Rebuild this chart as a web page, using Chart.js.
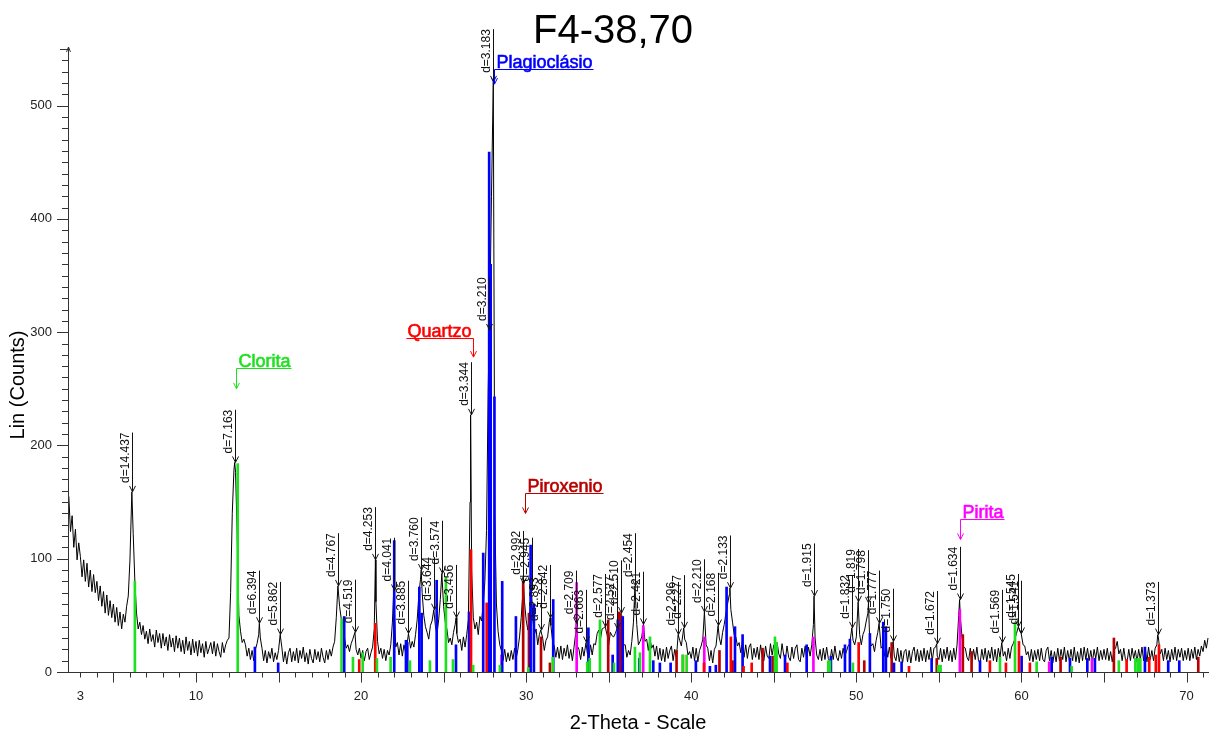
<!DOCTYPE html>
<html>
<head>
<meta charset="utf-8">
<title>F4-38,70</title>
<script src="https://cdn.jsdelivr.net/npm/chart.js@4.4.1/dist/chart.umd.min.js"></script>
<style>
  html, body { margin: 0; padding: 0; background: #fff; }
  #wrap { width: 1209px; height: 735px; }
</style>
</head>
<body>
<div id="wrap"><canvas id="xrd" width="1209" height="735"></canvas></div>
<script>
// Scan: counts every 0.1 deg 2-theta, starting at 2.3
const scanStart = 2.3;
const scanStep = 0.1;
const scanCounts = [
  155, 124, 138, 110, 126, 99, 114,
  102, 84, 99, 80, 96, 75, 90, 71, 86, 70,
  80, 63, 76, 58, 71, 52, 68, 50, 63, 48,
  60, 44, 57, 41, 53, 38, 51, 44, 58, 67,
  98, 150, 122, 80, 52, 38, 44, 33, 41, 29,
  36, 25, 38, 27, 33, 22, 37, 26, 34, 21,
  34, 23, 31, 19, 33, 22, 30, 18, 32, 21,
  30, 18, 28, 16, 31, 19, 27, 15, 29, 17,
  27, 14, 28, 17, 25, 13, 27, 16, 21, 26,
  16, 27, 14, 25, 18, 13, 26, 17, 24, 28,
  30, 70, 140, 178, 176, 120, 50, 36, 26, 29,
  24, 14, 21, 11, 19, 10, 20, 25, 33, 30,
  21, 10, 19, 8, 18, 12, 21, 9, 17, 11,
  19, 28, 22, 9, 18, 7, 17, 21, 9, 18,
  10, 21, 8, 19, 12, 22, 9, 17, 7, 20,
  12, 8, 20, 11, 18, 9, 21, 13, 8, 19,
  11, 20, 14, 22, 27, 48, 72, 58, 47, 42,
  30, 21, 24, 18, 25, 29, 32, 20, 15, 21,
  12, 19, 10, 18, 21, 11, 17, 22, 38, 62,
  27, 16, 21, 12, 20, 10, 19, 15, 24, 44,
  38, 22, 26, 15, 25, 14, 24, 17, 26, 31,
  21, 27, 22, 33, 46, 68, 82, 70, 50, 40,
  35, 29, 41, 45, 52, 41, 33, 46, 64, 84,
  58, 44, 38, 26, 30, 24, 35, 42, 34, 26,
  29, 19, 31, 22, 33, 46, 150, 90, 48, 38,
  44, 33, 49, 45, 60, 80, 125, 250, 320, 420,
  505, 140, 60, 36, 24, 19, 10, 20, 9, 17,
  10, 19, 11, 21, 12, 20, 31, 48, 70, 62,
  46, 37, 50, 66, 47, 33, 38, 24, 33, 34,
  30, 19, 28, 31, 44, 41, 27, 23, 13, 22,
  12, 23, 11, 21, 14, 24, 12, 20, 10, 22,
  34, 23, 20, 11, 22, 14, 24, 17, 12, 24,
  15, 25, 24, 34, 37, 29, 38, 39, 31, 33,
  24, 35, 32, 31, 34, 37, 45, 50, 36, 24,
  24, 13, 19, 15, 27, 44, 70, 42, 24, 27,
  31, 38, 27, 29, 19, 30, 21, 24, 14, 23,
  11, 21, 10, 20, 9, 22, 12, 19, 23, 10,
  20, 12, 24, 28, 23, 34, 29, 26, 15, 18,
  12, 22, 10, 21, 9, 19, 23, 29, 48, 24,
  21, 10, 19, 8, 20, 23, 36, 30, 24, 35,
  42, 52, 60, 68, 55, 44, 33, 31, 23, 26,
  17, 27, 13, 24, 12, 22, 25, 11, 21, 13,
  22, 11, 24, 13, 10, 23, 14, 12, 25, 15,
  24, 14, 26, 16, 12, 25, 15, 11, 23, 13,
  10, 22, 12, 21, 24, 11, 9, 21, 13, 23,
  12, 22, 14, 24, 42, 30, 15, 11, 20, 10,
  21, 11, 22, 12, 9, 20, 11, 23, 13, 10,
  19, 12, 21, 14, 18, 23, 25, 34, 28, 24,
  31, 50, 33, 24, 33, 37, 45, 52, 32, 23,
  25, 18, 28, 35, 30, 21, 23, 14, 24, 13,
  22, 12, 24, 14, 10, 21, 9, 19, 8, 18,
  20, 9, 19, 8, 18, 22, 10, 20, 9, 19,
  10, 21, 9, 19, 11, 22, 10, 21, 22, 14,
  11, 21, 9, 20, 12, 22, 10, 19, 9, 21,
  11, 24, 50, 48, 31, 22, 21, 13, 10, 21,
  9, 20, 11, 22, 10, 8, 20, 11, 21, 9,
  19, 12, 22, 10, 20, 9, 21, 13, 22, 14,
  18, 10, 21, 12, 22, 25, 29, 34, 38, 36,
  32, 24, 23, 15, 18, 10, 20, 9, 19, 11,
  20, 10, 21, 11, 9, 19, 22, 10, 19, 8,
  18, 9, 21, 10, 20, 11, 22, 9, 19, 10,
  20, 10, 22, 9, 18, 8, 21, 10, 22, 11,
  21, 10, 19, 9, 20, 12, 22, 10, 19, 11,
  20, 11, 21, 10, 18, 9, 19, 21, 27, 16,
  20, 10, 21, 11, 9, 20, 10, 21, 12, 19,
  9, 20, 11, 22, 10, 21, 9, 22, 11, 19,
  10, 21, 24, 30, 16, 20, 10, 21, 11, 19,
  9, 20, 11, 22, 10, 20, 13, 21, 10, 19,
  11, 21, 10, 20, 12, 22, 11, 20, 14, 23,
  18, 28, 21, 30
];

// Marked peaks: d-spacing (Å) and peak top counts
const peakD = [
  '14.437', '7.163', '6.394', '5.862', '4.767', '4.519', '4.253', '4.041', '3.885', '3.760',
  '3.644', '3.574', '3.456', '3.344', '3.210', '3.183', '2.992', '2.945', '2.893', '2.842',
  '2.709', '2.663', '2.577', '2.527', '2.510', '2.454', '2.421', '2.296', '2.277', '2.210',
  '2.168', '2.133', '1.915', '1.832', '1.819', '1.798', '1.777', '1.750', '1.672', '1.634',
  '1.569', '1.545', '1.541', '1.373'
];
const peakCounts = [
  159, 185, 43, 33, 76, 35, 99, 72, 34, 90,
  55, 87, 48, 227, 302, 521, 78, 72, 37, 48,
  43, 26, 40, 38, 52, 76, 42, 33, 39, 53,
  41, 74, 67, 39, 62, 61, 43, 27, 25, 64,
  26, 40, 34, 33
];

// Reference patterns (stick positions in 2-theta and heights in counts)
const cloritaTheta = [6.30, 12.53, 18.82, 19.51, 20.10, 20.96, 21.79, 22.96, 24.17, 25.14,
  25.57, 26.79, 28.41, 30.13, 31.61, 33.70, 33.85, 34.47, 35.32, 36.59,
  36.89, 37.50, 39.48, 39.72, 45.07, 45.17, 48.30, 48.40, 49.79, 54.96,
  55.10, 58.70, 59.61, 60.92, 63.04, 65.90, 66.90, 67.05, 67.20];
const cloritaCounts = [80, 184, 47, 13, 17, 12, 13, 10, 10, 84,
  11, 6, 6, 4, 13, 9, 12, 46, 8, 22,
  17, 31, 15, 15, 31, 26, 10, 10, 8, 6,
  6, 13, 44, 9, 5, 10, 12, 12, 12];

const quartzoTheta = [19.89, 20.86, 26.66, 27.61, 39.50, 40.77, 42.40, 43.17, 43.66, 45.82,
  50.14, 53.19, 58.09, 59.06, 59.85, 60.51, 66.37, 67.74, 68.14, 68.33];
const quartzoCounts = [11, 43, 108, 61, 15, 8, 31, 5, 8, 8,
  26, 5, 10, 8, 27, 8, 11, 13, 15, 24];

const plagioclasioTheta = [13.57, 14.98, 18.98, 22.01, 22.72, 22.80, 23.53, 23.67, 24.58, 25.75,
  26.54, 27.40, 27.76, 27.85, 28.08, 28.55, 29.38, 30.27, 30.47, 31.64,
  33.77, 35.24, 35.55, 35.85, 36.85, 37.70, 38.10, 38.75, 40.28, 41.13,
  41.49, 42.14, 42.65, 43.11, 44.77, 45.68, 46.99, 48.46, 49.31, 49.61,
  50.82, 51.63, 51.79, 52.28, 52.74, 54.56, 57.49, 60.01, 61.83, 62.94,
  63.99, 64.45, 67.48, 68.89, 69.56];
const plagioclasioCounts = [22, 8, 49, 116, 28, 26, 75, 52, 81, 24,
  53, 105, 459, 360, 243, 80, 49, 112, 60, 64,
  39, 15, 46, 49, 12, 10, 8, 8, 10, 5,
  6, 75, 40, 33, 14, 15, 24, 14, 24, 29,
  34, 44, 40, 8, 9, 12, 10, 14, 13, 12,
  12, 12, 22, 10, 10];

const piroxenioTheta = [29.82, 30.17, 30.90, 31.44, 34.97, 35.64, 35.74, 39.11, 41.71, 42.50,
  44.32, 44.93, 50.48, 52.14, 54.87, 56.45, 56.98, 62.37, 65.60, 70.71];
const piroxenioCounts = [80, 52, 31, 8, 46, 53, 50, 19, 19, 10,
  21, 14, 10, 26, 12, 33, 18, 13, 30, 13];

const piritaTheta = [28.51, 33.06, 37.09, 40.79, 47.40, 56.27, 61.68, 64.27];
const piritaCounts = [15, 79, 41, 31, 31, 55, 9, 12];

const xTickLabels = ['3', '10', '20', '30', '40', '50', '60', '70'];
const yTickLabels = ['0', '100', '200', '300', '400', '500'];

// Cu K-alpha1
const WAVELENGTH = 1.5406;
const twoTheta = d => 2 * Math.asin(WAVELENGTH / (2 * d)) * 180 / Math.PI;

const FONT = '"Liberation Sans", Arial, sans-serif';
const AXIS_COLOR = '#333';

const phases = [
  { name: 'Clorita', color: '#1fe01f', theta: cloritaTheta, counts: cloritaCounts },
  { name: 'Quartzo', color: '#ff0000', theta: quartzoTheta, counts: quartzoCounts },
  { name: 'Plagioclásio', color: '#0000ff', theta: plagioclasioTheta, counts: plagioclasioCounts },
  { name: 'Piroxenio', color: '#b80000', theta: piroxenioTheta, counts: piroxenioCounts },
  { name: 'Pirita', color: '#ff00ff', theta: piritaTheta, counts: piritaCounts },
];

// where each phase name sits: arrow tip (2-theta, counts), text side, arrow length
const phaseTags = [
  { theta: 12.42, counts: 250, side: 1, drop: 21 },
  { theta: 26.78, counts: 278, side: -1, drop: 19 },
  { theta: 28.05, counts: 519, side: 1, drop: 15 },
  { theta: 29.93, counts: 140, side: 1, drop: 20 },
  { theta: 56.27, counts: 117, side: 1, drop: 20 },
];

const peakTheta = peakD.map(d => twoTheta(parseFloat(d)));

const scanPoints = scanCounts
  .map((c, i) => ({ x: +(scanStart + i * scanStep).toFixed(2), y: c }))
  .filter(p => !peakTheta.some(t => Math.abs(t - p.x) < 0.03))
  .concat(peakTheta.map((t, i) => ({ x: t, y: peakCounts[i] })))
  .sort((a, b) => a.x - b.x);

const arrowHead = (ctx, x, y) => {
  ctx.beginPath();
  ctx.moveTo(x - 3, y - 6);
  ctx.lineTo(x, y);
  ctx.lineTo(x + 3, y - 6);
  ctx.stroke();
};

// axes with EVA style ticks, titles
const xrdAxes = {
  id: 'xrdAxes',
  afterDraw(chart) {
    const { ctx, chartArea: area, scales: { x, y } } = chart;
    ctx.save();
    ctx.strokeStyle = AXIS_COLOR;
    ctx.fillStyle = '#222';
    ctx.lineWidth = 1;

    const x0 = Math.round(area.left) + 0.5;
    const y0 = Math.round(area.bottom) + 0.5;

    ctx.beginPath();
    ctx.moveTo(57, y0);
    ctx.lineTo(area.right, y0);
    ctx.moveTo(x0, y0);
    ctx.lineTo(x0, area.top - 2);
    ctx.stroke();
    // arrow on top of the count axis
    ctx.beginPath();
    ctx.moveTo(60, area.top + 0.5);
    ctx.lineTo(x0, area.top + 0.5);
    ctx.moveTo(x0 - 2, area.top + 3);
    ctx.lineTo(x0, area.top - 2);
    ctx.lineTo(x0 + 2, area.top + 3);
    ctx.stroke();

    // count ticks every 10, long ones every 100
    ctx.beginPath();
    for (let v = 10; v <= 540; v += 10) {
      const py = Math.round(y.getPixelForValue(v)) + 0.5;
      ctx.moveTo(v % 100 === 0 ? 57 : 62, py);
      ctx.lineTo(x0, py);
    }
    ctx.stroke();

    ctx.font = '13px ' + FONT;
    ctx.textAlign = 'right';
    ctx.textBaseline = 'middle';
    yTickLabels.forEach(t => ctx.fillText(t, 52, y.getPixelForValue(+t)));

    // 2-theta ticks every degree, long ones every 5
    ctx.beginPath();
    for (let v = 3; v <= 71; v++) {
      const px = Math.round(x.getPixelForValue(v)) + 0.5;
      ctx.moveTo(px, y0);
      ctx.lineTo(px, y0 + (v % 5 === 0 ? 10 : 5));
    }
    ctx.stroke();

    ctx.textAlign = 'center';
    ctx.textBaseline = 'middle';
    xTickLabels.forEach(t => ctx.fillText(t, x.getPixelForValue(+t), 696));

    ctx.fillStyle = '#000';
    ctx.font = '20px ' + FONT;
    ctx.fillText('2-Theta - Scale', 638, 723);
    ctx.save();
    ctx.translate(18, 385);
    ctx.rotate(-Math.PI / 2);
    ctx.fillText('Lin (Counts)', 0, 0);
    ctx.restore();

    ctx.font = '40px ' + FONT;
    ctx.textBaseline = 'alphabetic';
    ctx.fillText('F4-38,70', 613, 43);
    ctx.restore();
  }
};

// d-spacing markers and phase names
const xrdLabels = {
  id: 'xrdLabels',
  afterDraw(chart) {
    const { ctx, scales: { x, y } } = chart;
    ctx.save();
    ctx.lineWidth = 1;
    ctx.strokeStyle = '#111';
    ctx.fillStyle = '#111';
    ctx.font = '12px ' + FONT;
    peakD.forEach((d, i) => {
      const px = Math.round(x.getPixelForValue(peakTheta[i])) + 0.5;
      const tip = y.getPixelForValue(peakCounts[i]);
      const text = 'd=' + d;
      const bottom = tip - 9;
      const top = bottom - ctx.measureText(text).width;
      ctx.beginPath();
      ctx.moveTo(px, top);
      ctx.lineTo(px, tip);
      ctx.stroke();
      arrowHead(ctx, px, tip);
      ctx.save();
      ctx.translate(px - 1, bottom);
      ctx.rotate(-Math.PI / 2);
      ctx.textBaseline = 'bottom';
      ctx.fillText(text, 0, 0);
      ctx.restore();
    });

    ctx.font = '18px ' + FONT;
    ctx.textBaseline = 'alphabetic';
    phases.forEach((p, i) => {
      const tag = phaseTags[i];
      const px = Math.round(x.getPixelForValue(tag.theta)) + 0.5;
      const tip = y.getPixelForValue(tag.counts);
      const lineY = Math.round(tip - tag.drop) + 0.5;
      const w = ctx.measureText(p.name).width;
      ctx.strokeStyle = p.color;
      ctx.fillStyle = p.color;
      ctx.beginPath();
      if (tag.side > 0) {
        ctx.moveTo(px, lineY);
        ctx.lineTo(px + w + 3, lineY);
      } else {
        ctx.moveTo(px - w - 3, lineY);
        ctx.lineTo(px, lineY);
      }
      ctx.moveTo(px, lineY);
      ctx.lineTo(px, tip);
      ctx.stroke();
      arrowHead(ctx, px, tip);
      const tx = tag.side > 0 ? px + 2 : px - w - 2;
      ctx.fillText(p.name, tx, lineY - 2);
      ctx.lineWidth = 0.6;
      ctx.strokeText(p.name, tx, lineY - 2);
      ctx.lineWidth = 1;
    });
    ctx.restore();
  }
};

const ctx = document.getElementById('xrd').getContext('2d');
new Chart(ctx, {
  type: 'bar',
  data: {
    datasets: [
      ...phases.map(p => ({
        type: 'bar',
        label: p.name,
        data: p.theta.map((t, i) => ({ x: t, y: p.counts[i] })),
        backgroundColor: p.color,
        borderWidth: 0,
        barThickness: 2,
        grouped: false,
        order: 0,
      })),
      {
        type: 'line',
        label: 'F4-38,70',
        data: scanPoints,
        borderColor: '#000',
        borderWidth: 1,
        pointRadius: 0,
        tension: 0,
        fill: false,
        order: 1,
      },
    ],
  },
  options: {
    responsive: false,
    animation: false,
    events: [],
    layout: { padding: { left: 68, right: 0, top: 49, bottom: 63 } },
    scales: {
      x: { type: 'linear', min: 2.25, max: 71.36, offset: false, display: false },
      y: { type: 'linear', min: 0, max: 550, display: false },
    },
    plugins: {
      legend: { display: false },
      tooltip: { enabled: false },
    },
  },
  plugins: [xrdAxes, xrdLabels],
});
</script>
</body>
</html>
